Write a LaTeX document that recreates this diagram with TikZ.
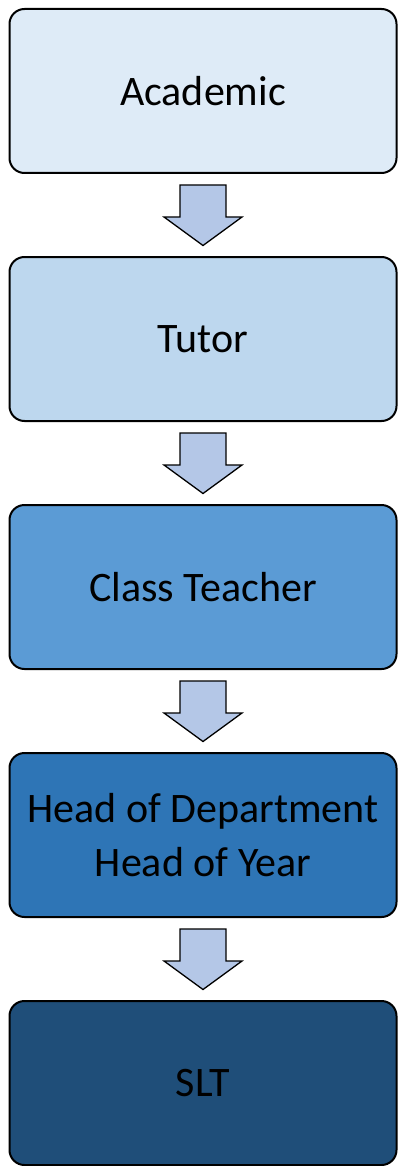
\documentclass[tikz,border=0pt]{standalone}
\usepackage{fontspec}
\setmainfont{Carlito}
\definecolor{c1}{HTML}{DEEBF7}
\definecolor{c2}{HTML}{BDD7EE}
\definecolor{c3}{HTML}{5B9BD5}
\definecolor{c4}{HTML}{2E75B6}
\definecolor{c5}{HTML}{1F4E79}
\definecolor{arr}{HTML}{B4C7E7}
\begin{document}
\begin{tikzpicture}[x=1pt,y=-1pt,
  stage/.style={draw=black,line width=2pt,rounded corners=15pt,minimum width=387pt,minimum height=164pt,inner sep=0pt,align=center,font=\fontsize{42}{54}\selectfont,text=black},
  downarrow/.style={draw=black,line width=1.3pt,fill=arr,line join=miter}]
\useasboundingbox (0,0) rectangle (398,1166);
\node[stage,fill=c1] (a) at (203,91) {Academic};
\node[stage,fill=c2] (b) at (203,339) {Tutor};
\node[stage,fill=c3] (c) at (203,587) {Class Teacher};
\node[stage,fill=c4] (d) at (203,835) {Head of Department\\Head of Year};
\node[stage,fill=c5] (e) at (203,1083) {SLT};
\foreach \p/\q in {a/b,b/c,c/d,d/e}{
  \draw[downarrow] ([shift={(-23,11)}]\p.south) -- ([shift={(23,11)}]\p.south) -- ([shift={(23,43)}]\p.south) -- ([shift={(39,43)}]\p.south) -- ([shift={(0,-10.5)}]\q.north) -- ([shift={(-39,43)}]\p.south) -- ([shift={(-23,43)}]\p.south) -- cycle;
}
\end{tikzpicture}
\end{document}
